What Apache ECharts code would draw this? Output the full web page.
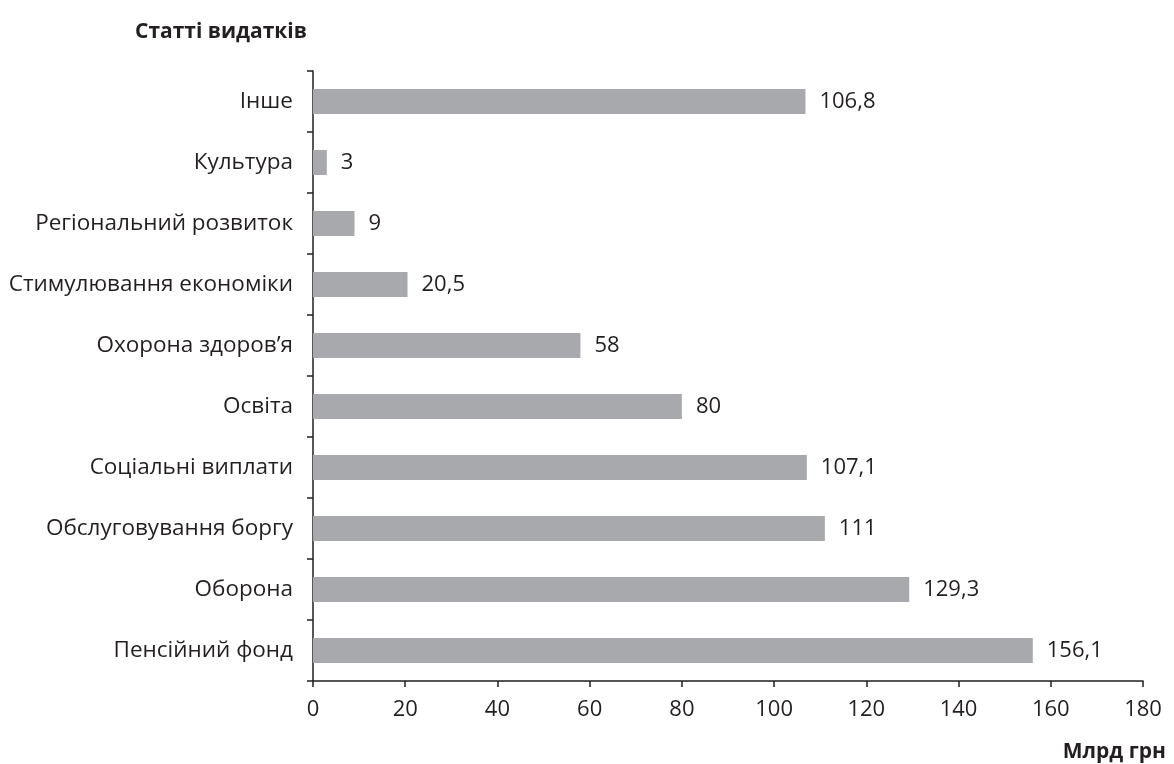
<!DOCTYPE html>
<html><head><meta charset="utf-8">
<script src="https://cdn.jsdelivr.net/npm/echarts@6/dist/echarts.min.js"></script>
<style>html,body{margin:0;padding:0;background:#fff}#c{width:1174px;height:764px}</style>
</head><body><div id="c"></div>
<script>
const categories = ["Пенсійний фонд","Оборона","Обслуговування боргу","Соціальні виплати","Освіта","Охорона здоров’я","Стимулювання економіки","Регіональний розвиток","Культура","Інше"];
const values = [156.1,129.3,111,107.1,80,58,20.5,9,3,106.8];
const xTicks = [0,20,40,60,80,100,120,140,160,180];
const yTitle = "Статті видатків";
const xTitle = "Млрд грн";

const FONT = '"Open Sans", "Noto Sans", sans-serif';
const TXT = '#231f20';
const chart = echarts.init(document.getElementById('c'));
chart.setOption({
  animation: false,
  textStyle: {fontFamily: FONT},
  title: [
    {text: yTitle, left: 130, top: 17, textStyle: {fontFamily: FONT, fontWeight: 'bold', fontSize: 21, color: TXT}},
    {text: xTitle, right: 3, top: 737, textStyle: {fontFamily: FONT, fontWeight: 'bold', fontSize: 21, color: TXT}}
  ],
  grid: {left: 313, right: 31, top: 71, bottom: 83},
  xAxis: {
    type: 'value', min: xTicks[0], max: xTicks[xTicks.length-1], interval: 20,
    axisLine: {show: true, lineStyle: {color: TXT, width: 1.5}},
    axisTick: {show: true, length: 6, lineStyle: {color: TXT, width: 1.5}},
    axisLabel: {fontSize: 22, color: TXT, margin: 18, fontFamily: FONT},
    splitLine: {show: false}
  },
  yAxis: {
    type: 'category', data: categories,
    axisLine: {show: true, lineStyle: {color: TXT, width: 1.5}},
    axisTick: {show: true, length: 6, lineStyle: {color: TXT, width: 1.5}},
    axisLabel: {fontSize: 22.5, color: TXT, margin: 20, fontFamily: FONT}
  },
  series: [{
    type: 'bar', data: values, barWidth: 25,
    itemStyle: {color: '#a7a9ac'},
    label: {show: true, position: 'right', distance: 14, fontSize: 22, color: TXT, fontFamily: FONT,
      formatter: p => String(p.value).replace('.', ',')}
  }]
});
</script></body></html>
